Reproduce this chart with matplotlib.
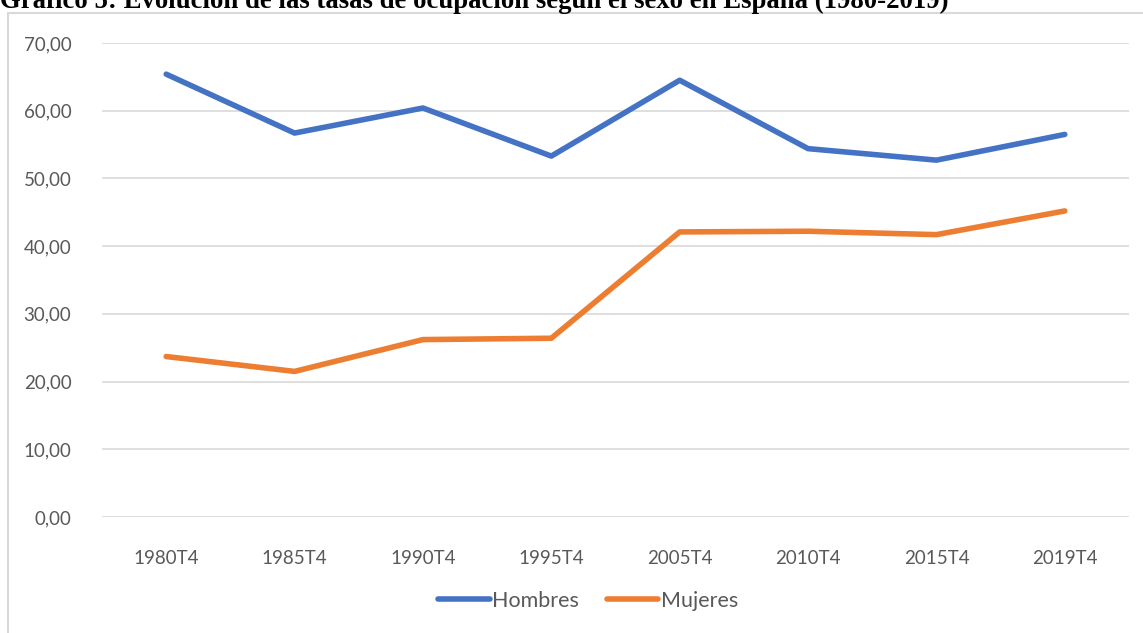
import matplotlib
matplotlib.use("Agg")
import matplotlib.pyplot as plt
from matplotlib.patches import Rectangle

categories = ["1980T4", "1985T4", "1990T4", "1995T4", "2005T4", "2010T4", "2015T4", "2019T4"]
hombres = [65.4, 56.7, 60.4, 53.3, 64.5, 54.4, 52.7, 56.5]
mujeres = [23.7, 21.5, 26.2, 26.4, 42.1, 42.2, 41.7, 45.2]
yticks = [0, 10, 20, 30, 40, 50, 60, 70]
title = "Gráfico 5: Evolución de las tasas de ocupación según el sexo en España (1980-2019)"

W, H = 1143, 633
fig = plt.figure(figsize=(W / 100, H / 100), dpi=100)

# chart frame
fig.patches.append(Rectangle((8 / W, -0.01), 1.01, (H - 13) / H + 0.01,
                             transform=fig.transFigure, fill=False,
                             edgecolor="#d9d9d9", linewidth=1.5))

ax = fig.add_axes([102 / W, (H - 517) / H, (1129 - 102) / W, (517 - 43) / H])
x = list(range(len(categories)))
ax.plot(x, hombres, color="#4472c4", lw=4, solid_capstyle="round", label="Hombres")
ax.plot(x, mujeres, color="#ed7d31", lw=4, solid_capstyle="round", label="Mujeres")
ax.set_xlim(-0.5, len(categories) - 0.5)
ax.set_ylim(0, 70)
ax.set_yticks(yticks)
ax.set_yticklabels([f"{v:.2f}".replace(".", ",") for v in yticks])
ax.set_xticks(x)
ax.set_xticklabels(categories)
ax.grid(axis="y", color="#d9d9d9", lw=1.2)
ax.set_axisbelow(True)
for s in ax.spines.values():
    s.set_visible(False)
ax.tick_params(length=0, labelsize=13.5, colors="#595959")
ax.tick_params(axis="y", pad=22)
ax.tick_params(axis="x", pad=24)
for lab in ax.get_xticklabels() + ax.get_yticklabels():
    lab.set_fontfamily("Lato")

leg = fig.legend(loc="center", bbox_to_anchor=(588 / W, (H - 601) / H), ncol=2,
                 frameon=False, prop={"family": "Lato", "size": 15.5},
                 handlelength=2.4, columnspacing=1.3, handletextpad=0.1)
for t in leg.get_texts():
    t.set_color("#595959")

fig.text(0, 1 - 8 / H, title, fontfamily="Liberation Serif", fontweight="bold",
         fontsize=19.3, ha="left", va="baseline")

fig.savefig("out.png", dpi=100)
